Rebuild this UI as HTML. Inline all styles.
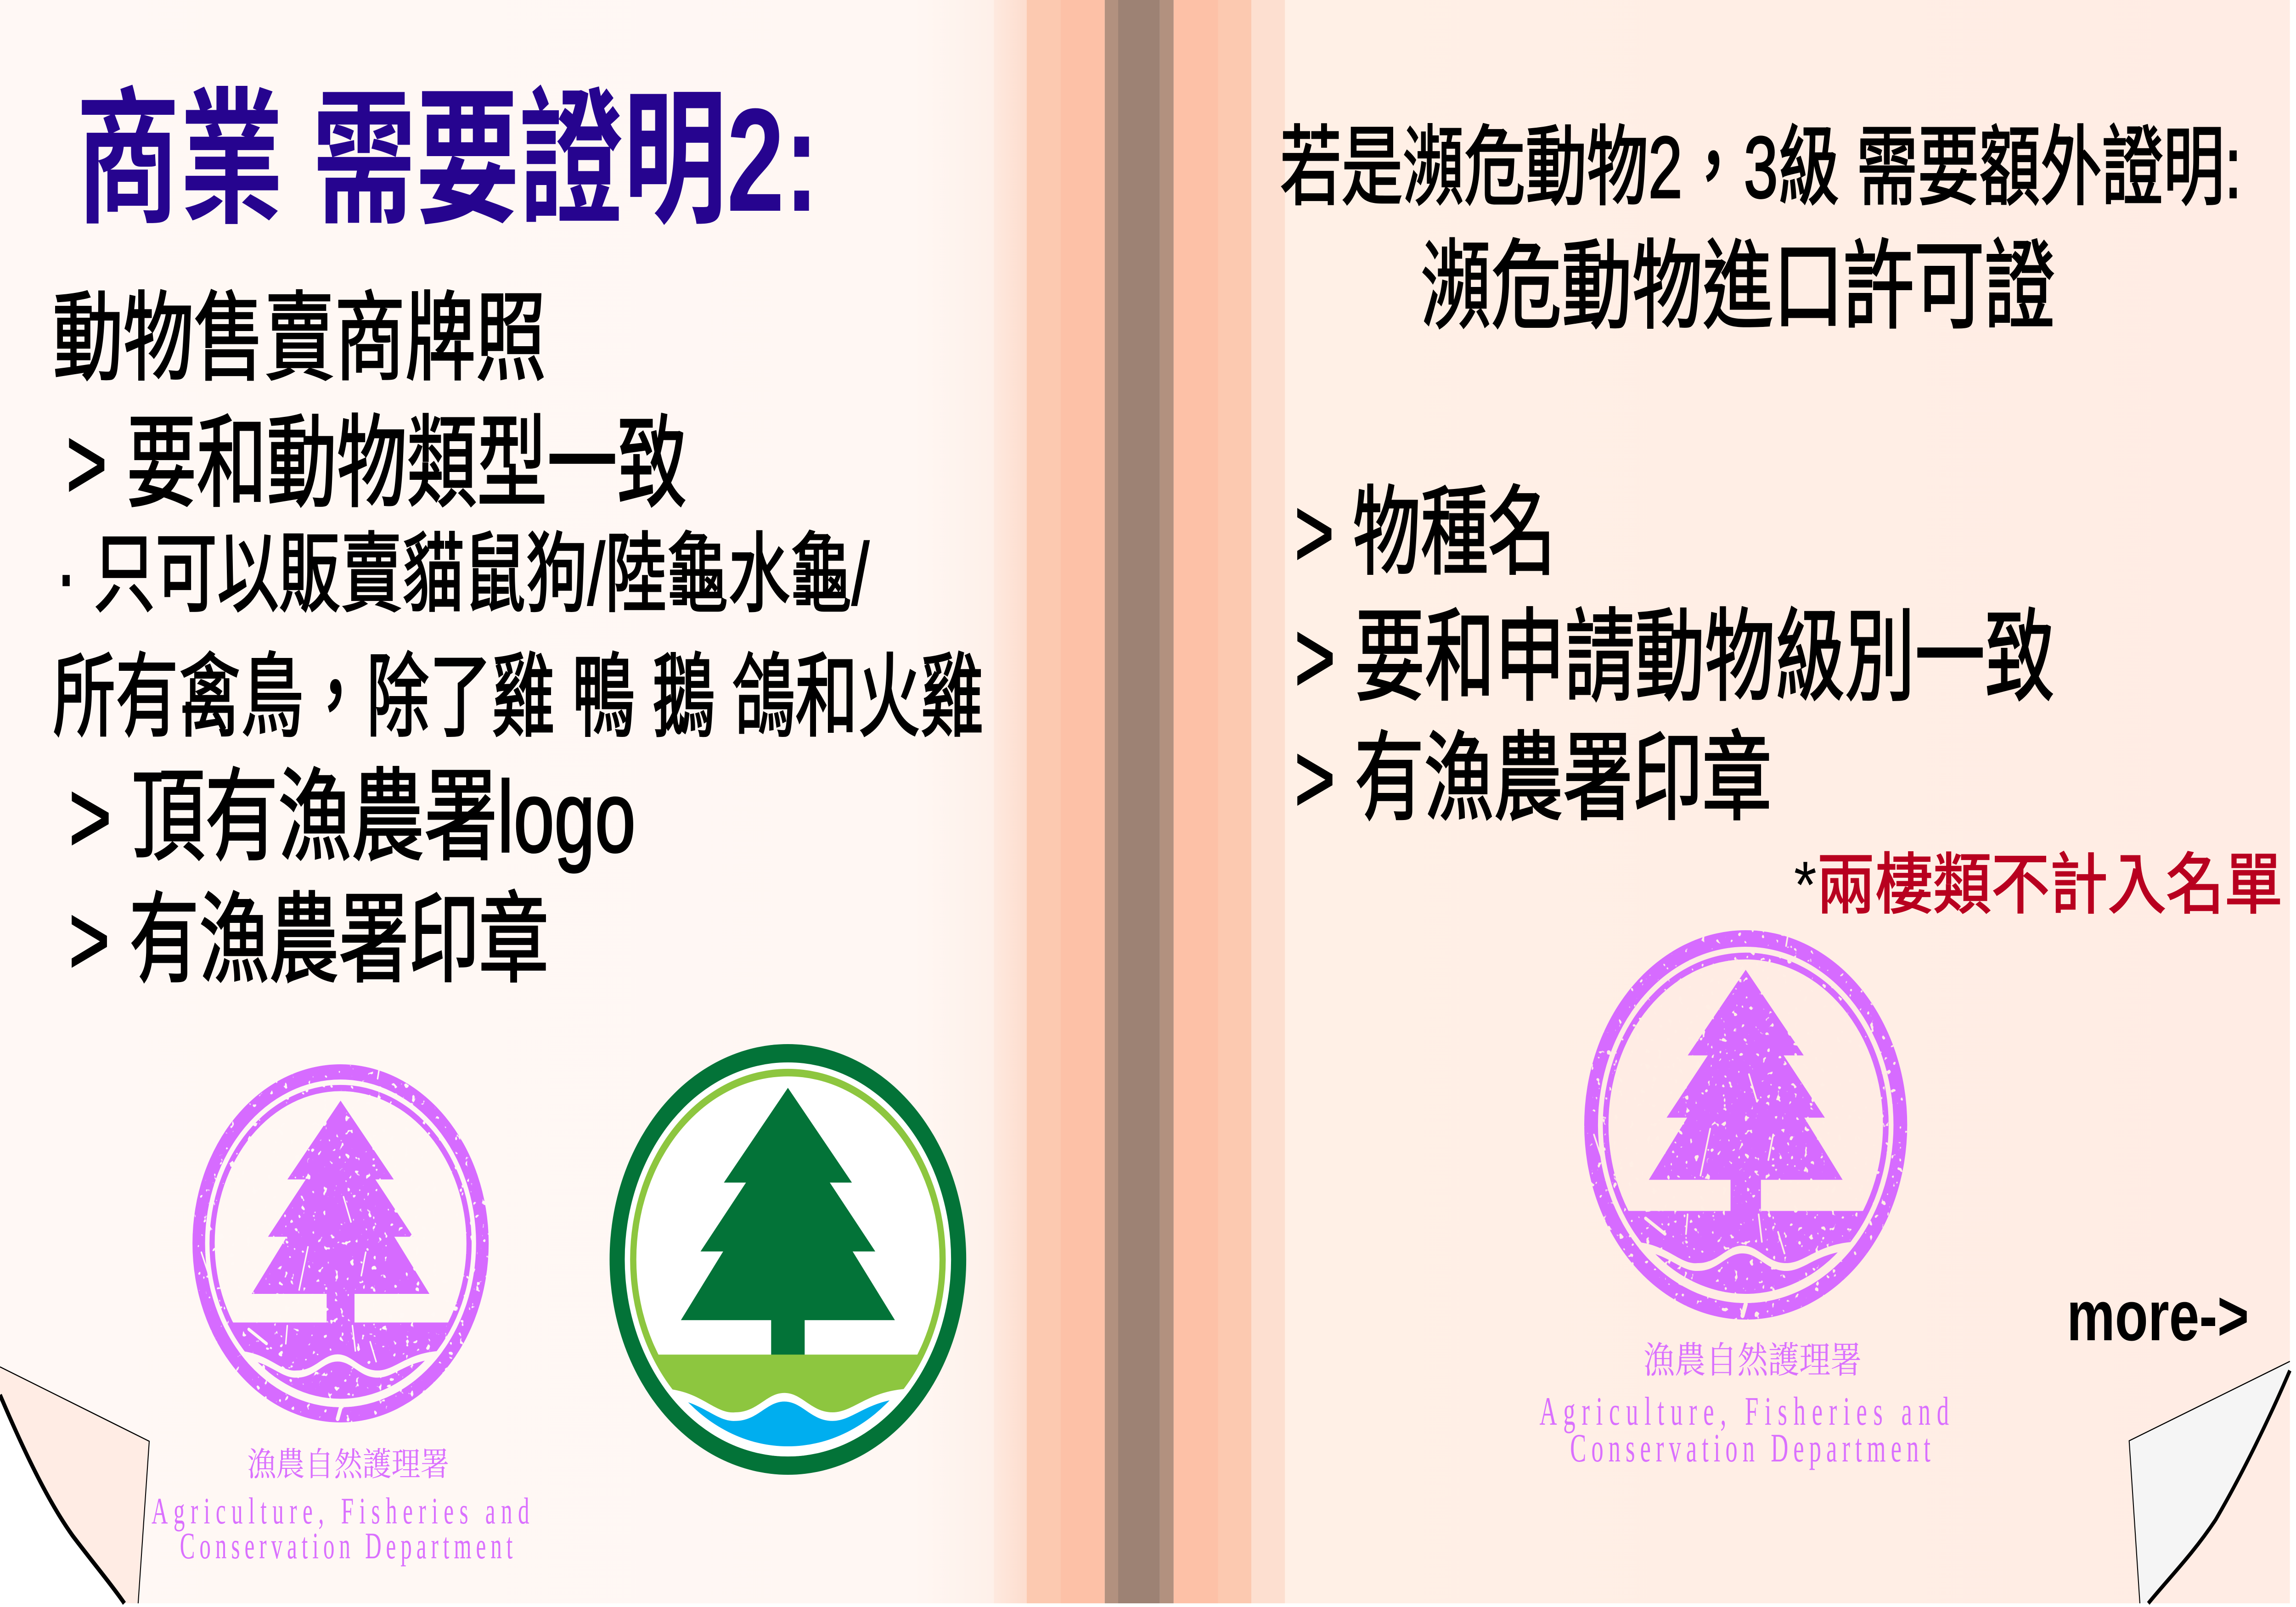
<!DOCTYPE html>
<html lang="zh-Hant">
<head>
<meta charset="utf-8">
<title>商業 需要證明</title>
<style>
html,body{margin:0;padding:0;background:#fff;width:100%;height:100%;overflow:hidden}
svg{display:block;position:fixed;left:0;top:0;width:100vw;height:100vh}
.t{font-family:"Liberation Sans","Noto Sans CJK TC",sans-serif;fill:#000;stroke:#000;stroke-width:4}
.s{font-family:"Liberation Serif","Noto Serif CJK SC",serif;fill:#da70ff}
</style>
</head>
<body>
<svg xmlns="http://www.w3.org/2000/svg" viewBox="0 0 6000 3500" preserveAspectRatio="none">
<defs>
<linearGradient id="lp" x1="0" x2="1" y1="0" y2="0"><stop offset="0" stop-color="#fff8f5"/><stop offset=".92" stop-color="#fff7f3"/><stop offset="1" stop-color="#fef0e9"/></linearGradient>
<linearGradient id="lf" x1="0" x2="1" y1="0" y2="0"><stop offset="0" stop-color="#fee9df"/><stop offset="1" stop-color="#fdddce"/></linearGradient>
<linearGradient id="rp" x1="0" x2="1" y1="0" y2="0"><stop offset="0" stop-color="#fff0e6"/><stop offset="1" stop-color="#ffece4"/></linearGradient>
<clipPath id="c87"><circle r=".868"/></clipPath>
<clipPath id="c915"><circle r=".915"/></clipPath>
<clipPath id="c86"><circle r=".86"/></clipPath>
<filter id="worn" x="-5%" y="-5%" width="110%" height="110%" color-interpolation-filters="sRGB">
<feTurbulence type="fractalNoise" baseFrequency=".07" numOctaves="2" seed="4" result="n"/>
<feColorMatrix in="n" type="matrix" values="0 0 0 0 0  0 0 0 0 0  0 0 0 0 0  20 0 0 0 -13.8" result="h"/>
<feComposite in="SourceGraphic" in2="h" operator="out"/>
</filter>
<symbol id="seal" overflow="visible">
<circle r="1" style="fill:var(--ring)"/>
<circle r=".915" style="fill:var(--gap)"/>
<circle r=".885" style="fill:var(--band)"/>
<circle r=".85" style="fill:var(--inner)"/>
<path d="M0,-.797 L.359,-.357 L.235,-.357 L.49,-.037 L.363,-.037 L.6,.282 L.094,.282 L.094,.45 L-.094,.45 L-.094,.282 L-.6,.282 L-.363,-.037 L-.49,-.037 L-.235,-.357 L-.359,-.357 Z" style="fill:var(--tree)"/>
<rect x="-.86" y=".442" width="1.72" height=".43" clip-path="url(#c86)" style="fill:var(--band)"/>
<path d="M-.75,.6 C-.5,.59 -.42,.72 -.296,.71 C-.17,.71 -.12,.62 -.02,.62 C.08,.62 .13,.71 .25,.71 C.38,.71 .46,.59 .75,.6 L.75,.915 L-.75,.915 Z" clip-path="url(#c915)" style="fill:var(--gap)"/>
<path d="M-.75,.645 C-.5,.63 -.42,.755 -.296,.75 C-.17,.75 -.12,.66 -.02,.66 C.08,.66 .13,.75 .25,.75 C.38,.75 .46,.63 .75,.645 L.75,.868 L-.75,.868 Z" clip-path="url(#c87)" style="fill:var(--water)"/>
</symbol>
<symbol id="scratches" overflow="visible">
<g fill="none" stroke-width=".01" stroke-linecap="round" style="stroke:var(--gap)">
<path d="M-.62,.48 L-.5,.56" stroke-width=".018"/><path d="M-.94,.05 L-.88,.2"/>
<path d="M-.28,.26 L-.22,.02"/><path d="M.02,-.26 L.07,-.12"/><path d="M.14,.18 L.17,.05"/><path d="M.08,.46 L.1,.6"/><path d="M-.36,.46 L-.37,.56"/>
<path d="M.26,-.97 L.25,-.92"/><path d="M-.02,.98 L0,.92" stroke-width=".025"/>
<path d="M.2,.55 L.24,.66"/>
</g>
</symbol>
</defs>

<rect x="0" y="0" width="2597" height="3492" fill="url(#lp)"/>
<rect x="2597" y="0" width="86" height="3492" fill="url(#lf)"/>
<rect x="2683" y="0" width="89" height="3492" fill="#fcc9b0"/>
<rect x="2772" y="0" width="115" height="3492" fill="#fdc1a7"/>
<rect x="2887" y="0" width="35" height="3492" fill="#b2917f"/>
<rect x="2922" y="0" width="109" height="3492" fill="#9d8274"/>
<rect x="3031" y="0" width="36" height="3492" fill="#b2917f"/>
<rect x="3067" y="0" width="116" height="3492" fill="#fdc1a7"/>
<rect x="3183" y="0" width="87" height="3492" fill="#fcc9b0"/>
<rect x="3270" y="0" width="88" height="3492" fill="#fddfd0"/>
<rect x="3358" y="0" width="2626" height="3492" fill="url(#rp)"/>

<text class="t" x="199" y="459" font-size="320" font-weight="700" textLength="1941" lengthAdjust="spacingAndGlyphs" style="fill:#26048f;stroke:none">商業 需要證明2:</text>
<text class="t" x="138" y="810" font-size="212" textLength="1289" lengthAdjust="spacingAndGlyphs">動物售賣商牌照</text>
<text class="t" x="173" y="1085" font-size="220" textLength="1623" lengthAdjust="spacingAndGlyphs">&gt; 要和動物類型一致</text>
<text class="t" x="146" y="1316" font-size="190" textLength="2125" lengthAdjust="spacingAndGlyphs">· 只可以販賣貓鼠狗/陸龜水龜/</text>
<text class="t" x="138" y="1587" font-size="200" textLength="2432" lengthAdjust="spacingAndGlyphs">所有禽鳥，除了雞 鴨 鵝 鴿和火雞</text>
<text class="t" x="180" y="1855" font-size="220" textLength="1481" lengthAdjust="spacingAndGlyphs">&gt; 頂有漁農署logo</text>
<text class="t" x="180" y="2121" font-size="215" textLength="1254" lengthAdjust="spacingAndGlyphs">&gt; 有漁農署印章</text>

<text class="t" x="3345" y="430" font-size="190" textLength="2513" lengthAdjust="spacingAndGlyphs">若是瀕危動物2，3級 需要額外證明:</text>
<text class="t" x="3713" y="697" font-size="212" textLength="1657" lengthAdjust="spacingAndGlyphs">瀕危動物進口許可證</text>
<text class="t" x="3383" y="1233" font-size="212" textLength="683" lengthAdjust="spacingAndGlyphs">&gt; 物種名</text>
<text class="t" x="3383" y="1507" font-size="220" textLength="1987" lengthAdjust="spacingAndGlyphs">&gt; 要和申請動物級別一致</text>
<text class="t" x="3383" y="1768" font-size="212" textLength="1247" lengthAdjust="spacingAndGlyphs">&gt; 有漁農署印章</text>
<text class="t" x="4688" y="1977" font-size="145" textLength="1277" lengthAdjust="spacingAndGlyphs" style="stroke:none">*<tspan style="fill:#b8001f;stroke:#b8001f;stroke-width:3">兩棲類不計入名單</tspan></text>

<g filter="url(#worn)" style="--ring:#d66bff;--gap:#fff7f3;--band:#d66bff;--inner:#fff7f3;--tree:#d66bff;--water:#d66bff">
<use href="#seal" transform="translate(890,2708) scale(387,390)"/>
<use href="#scratches" transform="translate(890,2708) scale(387,390)"/>
</g>
<g style="--ring:#037338;--gap:#ffffff;--band:#8dc63f;--inner:#ffffff;--tree:#037338;--water:#00aeef">
<use href="#seal" transform="translate(2059,2743) scale(466,469)"/>
</g>
<g filter="url(#worn)" style="--ring:#d66bff;--gap:#ffece4;--band:#d66bff;--inner:#ffece4;--tree:#d66bff;--water:#d66bff">
<use href="#seal" transform="translate(4562,2450) scale(422,424)"/>
<use href="#scratches" transform="translate(4562,2450) scale(422,424)"/>
</g>

<text class="s" x="646" y="3214" font-size="72" textLength="528" lengthAdjust="spacingAndGlyphs">漁農自然護理署</text>
<text class="s" transform="translate(396,3318) scale(.72,1)" font-size="82" textLength="1371" lengthAdjust="spacing">Agriculture, Fisheries and</text>
<text class="s" transform="translate(470,3394) scale(.72,1)" font-size="82" textLength="1208" lengthAdjust="spacing">Conservation Department</text>

<text class="s" x="4295" y="2990" font-size="80" textLength="570" lengthAdjust="spacingAndGlyphs">漁農自然護理署</text>
<text class="s" transform="translate(4023,3103) scale(.72,1)" font-size="88" textLength="1486" lengthAdjust="spacing">Agriculture, Fisheries and</text>
<text class="s" transform="translate(4103,3183) scale(.72,1)" font-size="88" textLength="1308" lengthAdjust="spacing">Conservation Department</text>

<text x="5401" y="2919" font-family="'Liberation Sans',sans-serif" font-weight="700" font-size="155" textLength="476" lengthAdjust="spacingAndGlyphs">more-&gt;</text>

<g>
<path d="M0,3038 C70,3175 130,3275 190,3345 C240,3400 290,3450 325,3492 L0,3492 Z" fill="#fff"/>
<path d="M0,2977 L390,3139 L361,3492 L325,3492 C290,3450 240,3400 190,3345 C130,3275 70,3175 0,3038 Z" fill="#ffece4"/>
<path d="M0,2977 L390,3139 L361,3492" fill="none" stroke="#000" stroke-width="2.5"/>
<path d="M0,3038 C70,3175 130,3275 190,3345 C240,3400 290,3450 325,3492" fill="none" stroke="#000" stroke-width="10"/>
</g>
<g>
<path d="M5984,2965 L5564,3138 L5592,3492 L5614,3492 C5670,3435 5730,3385 5790,3310 C5860,3210 5930,3090 5984,2985 Z" fill="#f5f5f5"/>
<path d="M5984,2965 L5564,3138 L5592,3492" fill="none" stroke="#000" stroke-width="2.5"/>
<path d="M5984,2985 C5930,3090 5860,3210 5790,3310 C5730,3385 5670,3435 5614,3492" fill="none" stroke="#000" stroke-width="9"/>
</g>
</svg>
</body>
</html>
